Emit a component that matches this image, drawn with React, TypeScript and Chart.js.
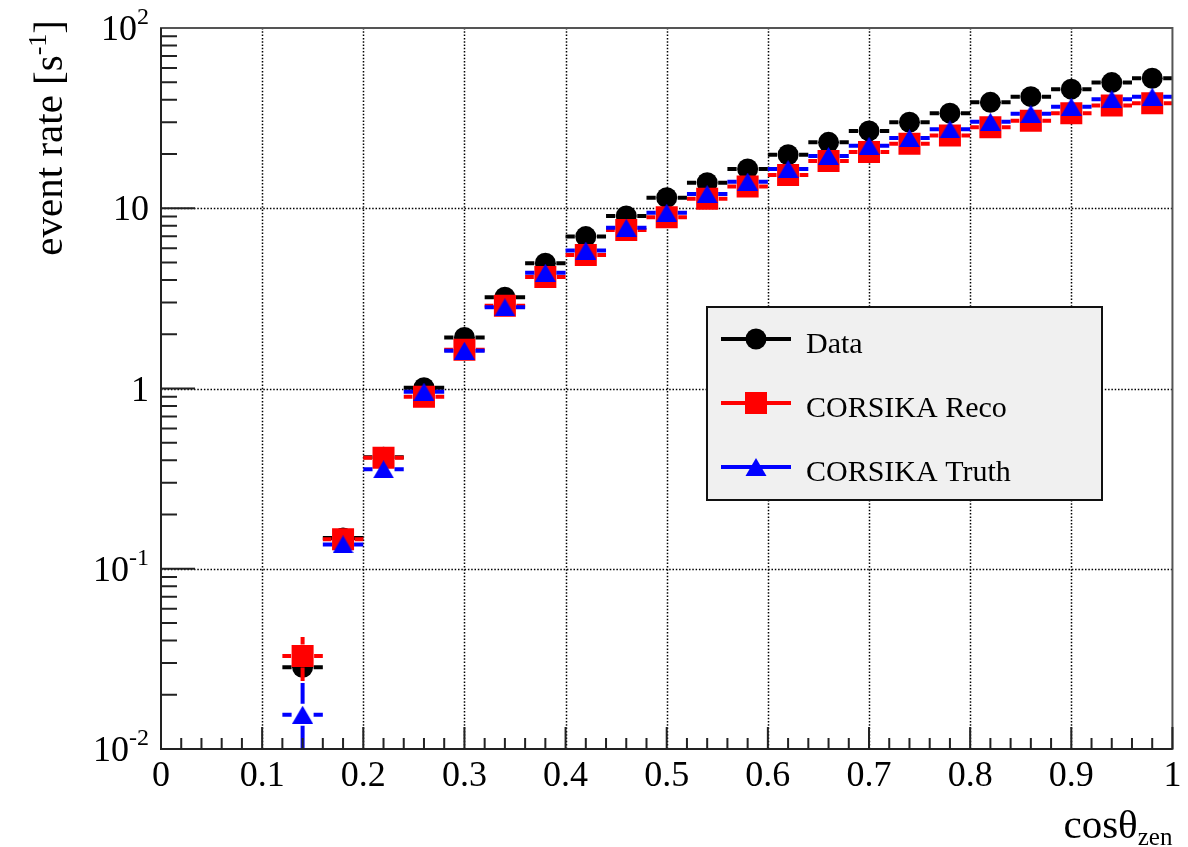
import React, { useEffect, useRef } from "react";
import { Chart, registerables } from "chart.js";

Chart.register(...registerables);

const SERIF = '"Liberation Serif", "Times New Roman", serif';

// cosθ_zen bin centres; every bin is 0.04 wide
const binCenters = [
  0.14, 0.18, 0.22, 0.26, 0.3, 0.34, 0.38, 0.42, 0.46, 0.5, 0.54,
  0.58, 0.62, 0.66, 0.7, 0.74, 0.78, 0.82, 0.86, 0.9, 0.94, 0.98,
];
const binHalfWidth = 0.02;

// event rates [1/s] and their statistical errors
const dataRate = [
  0.0284, 0.148, 0.415, 1.01, 1.92, 3.21, 4.95, 6.96, 9.06, 11.45, 13.87,
  16.5, 19.8, 23.2, 26.85, 30.0, 33.7, 38.7, 41.6, 45.8, 49.8, 52.6,
];
const dataErr = [
  0.003, 0.006, 0.012, 0.02, 0.03, 0.04, 0.05, 0.06, 0.07, 0.08, 0.09,
  0.1, 0.1, 0.11, 0.12, 0.12, 0.13, 0.14, 0.14, 0.15, 0.15, 0.16,
];
const recoRate = [
  0.0328, 0.146, 0.413, 0.9, 1.64, 2.88, 4.16, 5.51, 7.57, 8.91, 11.3,
  13.2, 15.3, 18.3, 20.5, 22.8, 25.3, 28.1, 30.6, 33.7, 37.1, 38.3,
];
const recoErr = [
  0.009, 0.012, 0.03, 0.05, 0.07, 0.1, 0.12, 0.14, 0.16, 0.18, 0.2,
  0.22, 0.24, 0.26, 0.28, 0.3, 0.32, 0.34, 0.36, 0.38, 0.4, 0.42,
];
const truthRate = [
  0.0155, 0.1365, 0.356, 0.96, 1.62, 2.82, 4.39, 5.82, 7.8, 9.45, 12.0,
  14.05, 16.5, 19.5, 22.2, 24.5, 27.4, 30.2, 33.4, 36.6, 40.3, 41.6,
];
const truthErr = [
  0.0077, 0.011, 0.025, 0.045, 0.06, 0.09, 0.11, 0.13, 0.15, 0.17, 0.19,
  0.21, 0.23, 0.25, 0.27, 0.29, 0.31, 0.33, 0.35, 0.37, 0.39, 0.41,
];

const seriesNames = ["Data", "CORSIKA Reco", "CORSIKA Truth"];
const seriesColors = ["#000000", "#ff0000", "#0000ff"];
const seriesRates = [dataRate, recoRate, truthRate];
const seriesErrs = [dataErr, recoErr, truthErr];

// axis ticks and labels
const xMajorTicks = [0, 0.1, 0.2, 0.3, 0.4, 0.5, 0.6, 0.7, 0.8, 0.9, 1];
const xTickLabels = ["0", "0.1", "0.2", "0.3", "0.4", "0.5", "0.6", "0.7", "0.8", "0.9", "1"];
const xGridValues = [0.1, 0.2, 0.3, 0.4, 0.5, 0.6, 0.7, 0.8, 0.9];
const yTickValues = [0.01, 0.1, 1, 10, 100];
const yTickBases = ["10", "10", "1", "10", "10"];
const yTickExponents = ["-2", "-1", "", "", "2"];
const yGridValues = [0.1, 1, 10];

const xTitle = "cosθ";
const xTitleSub = "zen";
const yTitle = "event rate [s";
const yTitleSup = "-1";
const yTitleEnd = "]";

// marker geometry (pixels)
const CIRCLE_R = 10.5;
const SQUARE_SIDE = 22;
const TRI_W = 21;
const TRI_H = 18;
const markerGaps = [11, 11.5, 11];

function makeTriangle(color: string, w: number, h: number) {
  const c = document.createElement("canvas");
  c.width = w;
  c.height = h;
  const g = c.getContext("2d")!;
  g.fillStyle = color;
  g.beginPath();
  g.moveTo(w / 2, 0);
  g.lineTo(w, h);
  g.lineTo(0, h);
  g.closePath();
  g.fill();
  return c;
}

function drawMarker(ctx: CanvasRenderingContext2D, kind: number, x: number, y: number, color: string) {
  ctx.fillStyle = color;
  ctx.beginPath();
  if (kind === 0) {
    ctx.arc(x, y, CIRCLE_R, 0, Math.PI * 2);
  } else if (kind === 1) {
    ctx.rect(x - SQUARE_SIDE / 2, y - SQUARE_SIDE / 2, SQUARE_SIDE, SQUARE_SIDE);
  } else {
    ctx.moveTo(x, y - TRI_H / 2);
    ctx.lineTo(x + TRI_W / 2, y + TRI_H / 2);
    ctx.lineTo(x - TRI_W / 2, y + TRI_H / 2);
    ctx.closePath();
  }
  ctx.fill();
}

const rootStyle = {
  id: "rootStyle",
  beforeDatasetsDraw(chart: any) {
    const { ctx, chartArea: a, scales } = chart;
    ctx.save();
    ctx.strokeStyle = "#000";
    ctx.lineWidth = 1.5;
    ctx.setLineDash([1.5, 1.8]);
    for (const v of xGridValues) {
      const px = Math.round(scales.x.getPixelForValue(v)) + 0.5;
      ctx.beginPath();
      ctx.moveTo(px, a.top);
      ctx.lineTo(px, a.bottom);
      ctx.stroke();
    }
    for (const v of yGridValues) {
      const py = Math.round(scales.y.getPixelForValue(v)) + 0.5;
      ctx.beginPath();
      ctx.moveTo(a.left, py);
      ctx.lineTo(a.right, py);
      ctx.stroke();
    }
    ctx.restore();
  },
  beforeDatasetDraw(chart: any, args: any) {
    const i = args.index;
    const { ctx, chartArea: a, scales } = chart;
    const rates = seriesRates[i];
    const errs = seriesErrs[i];
    const gap = markerGaps[i];
    ctx.save();
    ctx.beginPath();
    ctx.rect(a.left, a.top, a.right - a.left, a.bottom - a.top);
    ctx.clip();
    ctx.strokeStyle = seriesColors[i];
    ctx.lineWidth = 4;
    ctx.lineCap = "butt";
    for (let j = 0; j < binCenters.length; j++) {
      const c = binCenters[j];
      const v = rates[j];
      const cx = scales.x.getPixelForValue(c);
      const cy = scales.y.getPixelForValue(v);
      const xl = scales.x.getPixelForValue(c - binHalfWidth);
      const xr = scales.x.getPixelForValue(c + binHalfWidth);
      const yu = scales.y.getPixelForValue(v + errs[j]);
      const lo = v - errs[j];
      const yd = lo > 0 ? scales.y.getPixelForValue(lo) : a.bottom + 10;
      ctx.beginPath();
      if (xl < cx - gap) {
        ctx.moveTo(xl, cy);
        ctx.lineTo(cx - gap, cy);
      }
      if (xr > cx + gap) {
        ctx.moveTo(cx + gap, cy);
        ctx.lineTo(xr, cy);
      }
      if (yu < cy - gap) {
        ctx.moveTo(cx, yu);
        ctx.lineTo(cx, cy - gap);
      }
      if (yd > cy + gap) {
        ctx.moveTo(cx, cy + gap);
        ctx.lineTo(cx, yd);
      }
      ctx.stroke();
    }
    ctx.restore();
  },
  afterDatasetsDraw(chart: any) {
    const { ctx, chartArea: a, scales } = chart;
    ctx.save();

    // frame
    ctx.strokeStyle = "#555";
    ctx.lineWidth = 2;
    ctx.strokeRect(a.left, a.top, a.right - a.left, a.bottom - a.top);

    // axes with inward ticks
    ctx.strokeStyle = "#222";
    ctx.lineWidth = 2;
    ctx.beginPath();
    ctx.moveTo(a.left, a.top);
    ctx.lineTo(a.left, a.bottom);
    ctx.lineTo(a.right, a.bottom);
    ctx.stroke();

    ctx.beginPath();
    for (let k = 0; k <= 50; k++) {
      const v = k / 50;
      const px = scales.x.getPixelForValue(v);
      const len = k % 5 === 0 ? 22 : 11;
      ctx.moveTo(px, a.bottom);
      ctx.lineTo(px, a.bottom - len);
    }
    for (let d = -2; d <= 1; d++) {
      for (let m = 1; m <= 9; m++) {
        const v = m * Math.pow(10, d);
        const py = scales.y.getPixelForValue(v);
        const len = m === 1 ? 34 : 16;
        ctx.moveTo(a.left, py);
        ctx.lineTo(a.left + len, py);
      }
    }
    ctx.stroke();

    // y tick labels with exponents
    ctx.fillStyle = "#000";
    ctx.textBaseline = "alphabetic";
    const labelRight = 149;
    for (let t = 0; t < yTickValues.length; t++) {
      const py = scales.y.getPixelForValue(yTickValues[t]);
      ctx.font = `24px ${SERIF}`;
      const ew = yTickExponents[t] ? ctx.measureText(yTickExponents[t]).width : 0;
      ctx.font = `36px ${SERIF}`;
      const bw = ctx.measureText(yTickBases[t]).width;
      const x0 = labelRight - ew - bw;
      ctx.textAlign = "left";
      ctx.fillText(yTickBases[t], x0, py + 12);
      if (yTickExponents[t]) {
        ctx.font = `24px ${SERIF}`;
        ctx.fillText(yTickExponents[t], x0 + bw, py - 4);
      }
    }

    // x title
    ctx.font = `41px ${SERIF}`;
    const w1 = ctx.measureText(xTitle).width;
    ctx.font = `25px ${SERIF}`;
    const w2 = ctx.measureText(xTitleSub).width;
    const xs = a.right - w1 - w2;
    ctx.font = `41px ${SERIF}`;
    ctx.fillText(xTitle, xs, 838);
    ctx.font = `25px ${SERIF}`;
    ctx.fillText(xTitleSub, xs + w1, 845);

    // y title (rotated, ending at the top)
    ctx.save();
    ctx.translate(62, 20);
    ctx.rotate(-Math.PI / 2);
    ctx.font = `41px ${SERIF}`;
    const t1 = ctx.measureText(yTitle).width;
    const t3 = ctx.measureText(yTitleEnd).width;
    ctx.font = `26px ${SERIF}`;
    const t2 = ctx.measureText(yTitleSup).width;
    let tx = -(t1 + t2 + t3);
    ctx.font = `41px ${SERIF}`;
    ctx.fillText(yTitle, tx, 0);
    tx += t1;
    ctx.font = `26px ${SERIF}`;
    ctx.fillText(yTitleSup, tx, -16);
    tx += t2;
    ctx.font = `41px ${SERIF}`;
    ctx.fillText(yTitleEnd, tx, 0);
    ctx.restore();

    // legend
    const lx = 707, ly = 307, lw = 395, lh = 193;
    ctx.fillStyle = "#f0f0f0";
    ctx.fillRect(lx, ly, lw, lh);
    ctx.strokeStyle = "#111";
    ctx.lineWidth = 2;
    ctx.strokeRect(lx, ly, lw, lh);
    const rows = [339, 403, 467];
    for (let i = 0; i < 3; i++) {
      const ry = rows[i];
      ctx.strokeStyle = seriesColors[i];
      ctx.lineWidth = 4;
      ctx.beginPath();
      ctx.moveTo(721, ry);
      ctx.lineTo(791, ry);
      ctx.stroke();
      drawMarker(ctx, i, 756, ry, seriesColors[i]);
      ctx.fillStyle = "#000";
      ctx.font = `30px ${SERIF}`;
      ctx.textAlign = "left";
      ctx.fillText(seriesNames[i], 806, ry + 14);
    }
    ctx.restore();
  },
};

export default function App() {
  const canvasRef = useRef<HTMLCanvasElement | null>(null);

  useEffect(() => {
    const canvas = canvasRef.current;
    if (!canvas) return;
    const triangle = makeTriangle(seriesColors[2], TRI_W, TRI_H);
    const points = (rates: number[]) => binCenters.map((x, j) => ({ x, y: rates[j] }));

    const chart = new Chart(canvas, {
      type: "scatter",
      data: {
        datasets: [
          {
            label: seriesNames[0],
            data: points(dataRate),
            order: 3,
            pointStyle: "circle",
            pointRadius: CIRCLE_R,
            pointBackgroundColor: seriesColors[0],
            pointBorderWidth: 0,
            showLine: false,
          },
          {
            label: seriesNames[1],
            data: points(recoRate),
            order: 2,
            pointStyle: "rect",
            pointRadius: SQUARE_SIDE / Math.SQRT2,
            pointBackgroundColor: seriesColors[1],
            pointBorderWidth: 0,
            showLine: false,
          },
          {
            label: seriesNames[2],
            data: points(truthRate),
            order: 1,
            pointStyle: triangle as any,
            pointRadius: TRI_W / 2,
            pointBackgroundColor: seriesColors[2],
            pointBorderWidth: 0,
            showLine: false,
          },
        ],
      },
      options: {
        responsive: false,
        animation: false,
        devicePixelRatio: 1,
        layout: { padding: { top: 28, right: 7, left: 0, bottom: 0 } },
        plugins: {
          legend: { display: false },
          tooltip: { enabled: false },
        },
        scales: {
          x: {
            type: "linear",
            min: 0,
            max: 1,
            position: "bottom",
            grid: { display: false, drawTicks: false },
            border: { display: false },
            afterBuildTicks: (s: any) => {
              s.ticks = xMajorTicks.map((value) => ({ value }));
            },
            ticks: {
              autoSkip: false,
              maxRotation: 0,
              minRotation: 0,
              padding: 6,
              color: "#000",
              font: { family: SERIF, size: 36 },
              callback: (_v: any, i: number) => xTickLabels[i] ?? "",
            },
            afterFit: (s: any) => {
              s.height = 98;
              s.paddingLeft = 0;
              s.paddingRight = 0;
            },
          },
          y: {
            type: "logarithmic",
            min: 0.01,
            max: 100,
            grid: { display: false, drawTicks: false },
            border: { display: false },
            ticks: { display: false },
            afterFit: (s: any) => {
              s.width = 161;
            },
          },
        },
      },
      plugins: [rootStyle],
    });
    return () => chart.destroy();
  }, []);

  return (
    <div style={{ position: "fixed", left: 0, top: 0, width: 1188, height: 847, background: "#fff" }}>
      <canvas ref={canvasRef} width={1188} height={847} style={{ display: "block" }} />
    </div>
  );
}
